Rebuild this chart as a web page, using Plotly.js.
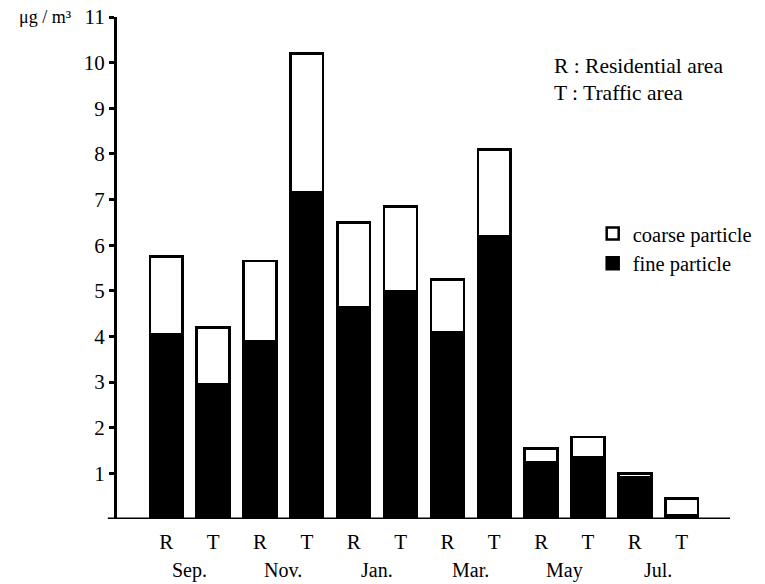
<!DOCTYPE html>
<html>
<head>
<meta charset="utf-8">
<script src="https://cdn.plot.ly/plotly-3.0.1.min.js"></script>
<style>html,body{margin:0;padding:0;background:#fff;}#chart{width:765px;height:584px;}</style>
</head>
<body>
<div id="chart"></div>
<script>
// Data
const siteLabels = ["R","T","R","T","R","T","R","T","R","T","R","T"];
const months = ["Sep.","Nov.","Jan.","Mar.","May","Jul."];
const totalValues = [5.75, 4.2, 5.65, 10.2, 6.5, 6.85, 5.25, 8.1, 1.55, 1.8, 1.0, 0.45];
const fineValues  = [4.05, 2.95, 3.9, 7.15, 4.65, 5.0, 4.1, 6.2, 1.25, 1.35, 0.92, 0.08];
const coarseValues = totalValues.map((t, i) => +(t - fineValues[i]).toFixed(2));
const yTicks = [1,2,3,4,5,6,7,8,9,10,11];

const xIdx = siteLabels.map((_, i) => i);
const serif = "Liberation Serif, Times New Roman, serif";

const traces = [
  {
    type: "bar", name: "fine particle", x: xIdx, y: fineValues,
    marker: {color: "#000", line: {color: "#000", width: 2.5}},
    width: 0.7
  },
  {
    type: "bar", name: "coarse particle", x: xIdx, y: coarseValues,
    marker: {color: "#fff", line: {color: "#000", width: 2.5}},
    width: 0.7
  }
];

const annotations = months.map((m, k) => ({
  text: m, x: 2*k + 0.5, xref: "x", y: -0.102, yref: "paper",
  xanchor: "center", yanchor: "middle", showarrow: false,
  font: {family: serif, size: 20, color: "#000"}
}));
annotations.push(
  {text: "\u03bcg / m\u00b3", x: -0.07, xref: "paper", y: 1.0, yref: "paper",
   xanchor: "right", yanchor: "middle", showarrow: false,
   font: {family: serif, size: 18, color: "#000"}},
  {text: "R : Residential area", x: 0.709, xref: "paper", y: 0.903, yref: "paper",
   xanchor: "left", yanchor: "middle", showarrow: false,
   font: {family: serif, size: 21.5, color: "#000"}},
  {text: "T : Traffic area", x: 0.709, xref: "paper", y: 0.848, yref: "paper",
   xanchor: "left", yanchor: "middle", showarrow: false,
   font: {family: serif, size: 21.5, color: "#000"}}
);

const layout = {
  width: 765, height: 584,
  margin: {l: 117, r: 35, t: 17, b: 65, autoexpand: false},
  paper_bgcolor: "#fff", plot_bgcolor: "#fff",
  barmode: "stack",
  showlegend: true,
  legend: {
    x: 0.776, y: 0.608, xanchor: "left", yanchor: "top",
    traceorder: "reversed", bgcolor: "rgba(0,0,0,0)",
    font: {family: serif, size: 20.5, color: "#000"},
    itemwidth: 30
  },
  xaxis: {
    range: [-1.05, 12.03], tickmode: "array", tickvals: xIdx, ticktext: siteLabels,
    showgrid: false, zeroline: false, showline: false, ticks: "",
    ticklabelstandoff: 8, automargin: false,
    tickfont: {family: serif, size: 21, color: "#000"}, fixedrange: true
  },
  yaxis: {
    range: [0, 11], tickmode: "array", tickvals: yTicks,
    showgrid: false, zeroline: false, showline: true, linecolor: "#000", linewidth: 3,
    ticks: "outside", ticklen: 5, tickwidth: 3, tickcolor: "#000", automargin: false,
    tickfont: {family: serif, size: 21, color: "#000"}, fixedrange: true
  },
  shapes: [
    {type: "line", xref: "paper", yref: "y", x0: -0.015, x1: 1, y0: 0, y1: 0,
     line: {color: "#000", width: 3}}
  ],
  annotations: annotations
};

Plotly.newPlot("chart", traces, layout, {displayModeBar: false, staticPlot: true});
</script>
</body>
</html>
